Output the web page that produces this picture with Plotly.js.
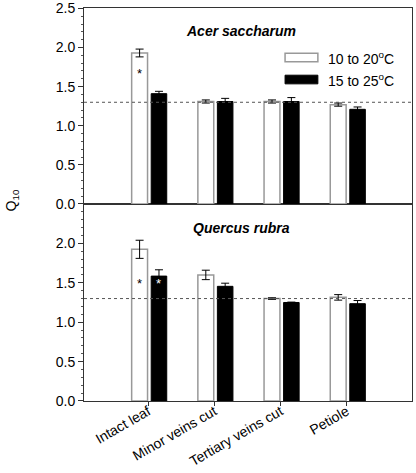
<!DOCTYPE html>
<html><head><meta charset="utf-8">
<script src="https://cdn.plot.ly/plotly-3.0.1.min.js"></script>
<style>html,body{margin:0;padding:0;background:#fff}</style>
</head><body>
<div id="chart" style="width:416px;height:473px"></div>
<script>
var categories = ["Intact leaf", "Minor veins cut", "Tertiary veins cut", "Petiole"];
var seriesNames = ["10 to 20<sup>o</sup>C", "15 to 25<sup>o</sup>C"];
var panelTitles = ["Acer saccharum", "Quercus rubra"];
var topTicks = [0, 0.5, 1.0, 1.5, 2.0, 2.5];
var bottomTicks = [0, 0.5, 1.0, 1.5, 2.0];
// Acer saccharum (top panel)
var acerLow = [1.93, 1.31, 1.31, 1.27];
var acerLowErr = [0.05, 0.02, 0.02, 0.02];
var acerHigh = [1.41, 1.31, 1.31, 1.21];
var acerHighErr = [0.03, 0.04, 0.05, 0.03];
// Quercus rubra (bottom panel)
var quercusLow = [1.925, 1.60, 1.30, 1.315];
var quercusLowErr = [0.115, 0.06, 0.01, 0.035];
var quercusHigh = [1.585, 1.455, 1.25, 1.235];
var quercusHighErr = [0.08, 0.04, 0.005, 0.04];
var referenceQ10 = 1.3;
// significance markers: [panel, category index, series, y]
var stars = [["top", 0, 0, 1.67], ["bottom", 0, 0, 1.485], ["bottom", 0, 1, 1.485]];

var FONT = "Liberation Sans, Arial, sans-serif";
var OFF = [-0.25, 0.045], WID = [0.24, 0.235];

function barTrace(vals, errs, s, xa, ya) {
  return {
    type: "bar", x: categories, y: vals, xaxis: xa, yaxis: ya,
    width: WID[s], offset: OFF[s], showlegend: false,
    marker: s === 0 ? {color: "#ffffff", line: {color: "#999999", width: 1.5}}
                    : {color: "#000000", line: {color: "#000000", width: 1}},
    error_y: {type: "data", array: errs, visible: true, color: "#000", thickness: 1, width: 4},
    hoverinfo: "skip"
  };
}
var data = [
  barTrace(acerLow, acerLowErr, 0, "x2", "y2"),
  barTrace(acerHigh, acerHighErr, 1, "x2", "y2"),
  barTrace(quercusLow, quercusLowErr, 0, "x", "y"),
  barTrace(quercusHigh, quercusHighErr, 1, "x", "y")
];

function yAxis(ticks, domain, anchor, top) {
  return {
    domain: domain, anchor: anchor,
    range: [0, top], tickmode: "array", tickvals: ticks, tickformat: ".1f",
    ticks: "outside", ticklen: 5,
    tickcolor: "#333", showline: true, linecolor: "#333", linewidth: 1, mirror: true,
    showgrid: false, zeroline: false, tickfont: {family: FONT, size: 14, color: "#000"},
    minor: {tickmode: "linear", tick0: 0, dtick: 0.1, ticks: "outside", ticklen: 2,
      tickcolor: "#555", showgrid: false}
  };
}
var xRange = [-0.97, 3.985];
var layout = {
  width: 416, height: 473,
  margin: {l: 84, r: 4, t: 8, b: 72},
  paper_bgcolor: "#fff", plot_bgcolor: "#fff",
  barmode: "overlay", showlegend: false,
  font: {family: FONT, size: 14, color: "#000"},
  xaxis: {type: "category", range: xRange, anchor: "y", ticks: "outside", ticklen: 4,
    tickcolor: "#333", tickangle: -30, ticklabelstandoff: -8, showline: true, linecolor: "#333",
    mirror: true, showgrid: false, tickfont: {family: FONT, size: 14, color: "#000"}},
  xaxis2: {type: "category", range: xRange, anchor: "y2", ticks: "", showticklabels: false,
    showline: true, linecolor: "#333", mirror: true, showgrid: false},
  yaxis: yAxis(bottomTicks, [0, 0.5013], "x", 2.5),
  yaxis2: yAxis(topTicks, [0.5013, 1], "x2", 2.505),
  shapes: [
    {type: "line", xref: "x domain", yref: "y", x0: 0, x1: 1, y0: referenceQ10, y1: referenceQ10,
      line: {color: "#555", width: 1, dash: "dot"}},
    {type: "line", xref: "x2 domain", yref: "y2", x0: 0, x1: 1, y0: referenceQ10, y1: referenceQ10,
      line: {color: "#555", width: 1, dash: "dot"}},
    {type: "rect", xref: "paper", yref: "paper", x0: 0.613, x1: 0.713, y0: 0.863, y1: 0.885,
      fillcolor: "#fff", line: {color: "#999", width: 1.5}},
    {type: "rect", xref: "paper", yref: "paper", x0: 0.613, x1: 0.713, y0: 0.807, y1: 0.829,
      fillcolor: "#000", line: {color: "#000", width: 1}}
  ],
  annotations: [
    {text: "<b><i>" + panelTitles[0] + "</i></b>", xref: "paper", yref: "paper", x: 0.479, y: 0.941,
      xanchor: "center", yanchor: "middle", showarrow: false, font: {family: FONT, size: 14}},
    {text: "<b><i>" + panelTitles[1] + "</i></b>", xref: "paper", yref: "paper", x: 0.479, y: 0.440,
      xanchor: "center", yanchor: "middle", showarrow: false, font: {family: FONT, size: 14}},
    {text: seriesNames[0], xref: "paper", yref: "paper", x: 0.738, y: 0.873, xanchor: "left",
      yanchor: "middle", showarrow: false, font: {family: FONT, size: 14}},
    {text: seriesNames[1], xref: "paper", yref: "paper", x: 0.738, y: 0.817, xanchor: "left",
      yanchor: "middle", showarrow: false, font: {family: FONT, size: 14}},
    {text: "Q<sub>10</sub>", xref: "paper", yref: "paper", x: -0.22, y: 0.51, textangle: -90,
      xanchor: "center", yanchor: "middle", showarrow: false, font: {family: FONT, size: 14}}
  ]
};
stars.forEach(function (s) {
  var top = s[0] === "top";
  layout.annotations.push({
    text: "*", xref: top ? "x2" : "x", yref: top ? "y2" : "y",
    x: s[1] + OFF[s[2]] + WID[s[2]] / 2, y: s[3], showarrow: false,
    xanchor: "center", yanchor: "middle",
    font: {family: FONT, size: 13, color: s[2] === 0 ? "#000" : "#fff"}
  });
});
Plotly.newPlot("chart", data, layout, {staticPlot: true, displayModeBar: false});
</script>
</body></html>
